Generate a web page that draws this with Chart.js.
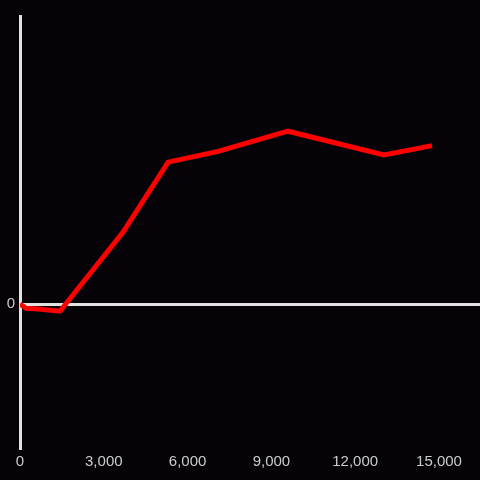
<!DOCTYPE html>
<html>
<head>
<meta charset="utf-8">
<script src="https://cdn.jsdelivr.net/npm/chart.js@4/dist/chart.umd.min.js"></script>
<style>
  html, body { margin: 0; padding: 0; background: #050307; }
  #wrap { width: 480px; height: 480px; }
</style>
</head>
<body>
<div id="wrap"><canvas id="c"></canvas></div>
<script>
// values
const xValues = [0, 215, 645, 1430, 3690, 5300, 7090, 9590, 13030, 14750];
const yValues = [0, -0.03, -0.035, -0.05, 0.5, 0.985, 1.06, 1.2, 1.035, 1.1];
const xTicks = [0, 3000, 6000, 9000, 12000, 15000];
const xMax = 16468;
const yMin = -1, yMax = 2;

const LINE_COLOR = '#ff0000';
const AXIS_COLOR = '#e2e2e2';
const TICK_COLOR = '#cccccc';

const points = xValues.map((x, i) => ({ x, y: yValues[i] }));

new Chart(document.getElementById('c'), {
  type: 'line',
  data: {
    datasets: [{
      data: points,
      borderColor: LINE_COLOR,
      borderWidth: 5,
      pointRadius: 0,
      tension: 0,
      fill: false,
    }]
  },
  options: {
    responsive: true,
    maintainAspectRatio: false,
    animation: false,
    layout: { padding: { left: 0, right: 0, top: 16, bottom: 0 } },
    plugins: { legend: { display: false }, tooltip: { enabled: false } },
    scales: {
      x: {
        type: 'linear',
        min: 0, max: xMax,
        grid: { display: false, drawTicks: false },
        border: { display: false },
        afterBuildTicks: s => { s.ticks = xTicks.map(v => ({ value: v })); },
        afterFit: s => { s.height = 32; s.paddingRight = 0; },
        ticks: {
          autoSkip: false,
          color: TICK_COLOR,
          padding: 5,
          maxRotation: 0,
          font: { family: 'Liberation Sans', size: 15 },
          callback: v => v.toLocaleString('en-US'),
        }
      },
      y: {
        min: yMin, max: yMax,
        afterFit: s => { s.width = 20; },
        grid: {
          drawTicks: false,
          lineWidth: 3,
          color: ctx => ctx.tick && ctx.tick.value === 0 ? AXIS_COLOR : 'transparent',
        },
        border: { display: true, color: AXIS_COLOR, width: 3 },
        ticks: {
          stepSize: 1,
          color: TICK_COLOR,
          padding: 5,
          font: { family: 'Liberation Sans', size: 15 },
          callback: v => v === 0 ? '0' : '',
        }
      }
    }
  }
});
</script>
</body>
</html>
